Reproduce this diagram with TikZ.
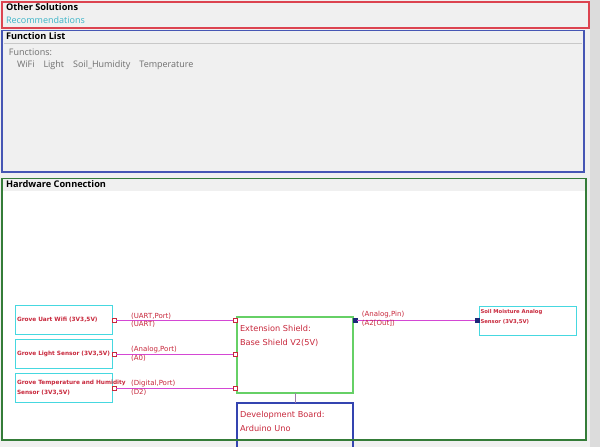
\documentclass[tikz,border=0pt]{standalone}
\usepackage{fontspec}
\setmainfont{Open Sans}
\newfontfamily\cadfont{DejaVu Sans}
\usetikzlibrary{positioning}
\definecolor{panelgray}{HTML}{F0F0F0}
\definecolor{bargray}{HTML}{DCDCDC}
\definecolor{rulegray}{HTML}{C8C8C8}
\definecolor{textgray}{HTML}{6E6E6E}
\definecolor{recocyan}{HTML}{3CB4C8}
\definecolor{panelred}{HTML}{DC4450}
\definecolor{panelblue}{HTML}{4656B4}
\definecolor{panelgreen}{HTML}{347C38}
\definecolor{sensorcyan}{HTML}{46D8E0}
\definecolor{shieldgreen}{HTML}{66D066}
\definecolor{devblue}{HTML}{3444B0}
\definecolor{cadred}{HTML}{C8283C}
\definecolor{linkpink}{HTML}{D448D4}
\definecolor{pinblue}{HTML}{1C2878}
\definecolor{stemgray}{HTML}{9C7CA8}
\begin{document}
\begin{tikzpicture}[x=1pt, y=-1pt,
    every node/.style={inner sep=0pt, outer sep=0pt},
    panel/.style={line width=1.6pt},
    title/.style={anchor=west, font=\bfseries\fontsize{9.2}{11}\selectfont},
    info/.style={anchor=west, text=textgray, font=\fontsize{9}{11}\selectfont},
    sensor/.style={draw=sensorcyan, line width=1pt,
        minimum width=97pt, minimum height=29pt, text width=93pt,
        align=left, text=cadred, font=\cadfont\bfseries\fontsize{5.8}{10}\selectfont},
    board/.style={line width=1.2pt, minimum width=116pt},
    boardtext/.style={anchor=north west, align=left, text=cadred,
        font=\cadfont\fontsize{8.2}{14}\selectfont},
    port/.style={draw=cadred, fill=white, line width=0.6pt, minimum size=3.8pt},
    pin/.style={draw=pinblue, fill=pinblue, minimum size=3.8pt},
    link/.style={draw=linkpink, line width=1pt},
    lab/.style={text=cadred, font=\cadfont\fontsize{7}{8}\selectfont}
]
\useasboundingbox (0,0) rectangle (600,447);
\fill[panelgray] (0,0) rectangle (600,447);
\fill[bargray] (590,0) rectangle (600,447);

% panels
\draw[panel, draw=panelred] (2,2) rectangle (589,28);
\node[title] at (6,7.5) {Other Solutions};
\node[anchor=west, text=recocyan, font=\fontsize{9}{11}\selectfont] at (6,20) {Recommendations};

\draw[panel, draw=panelblue] (2,30.5) rectangle (584,172);
\draw[rulegray, line width=0.6pt] (4,43) -- (582,43);
\node[title] at (6,36.5) {Function List};
\node[info] at (9,52) {Functions:};
\node[info] at (17,65) {WiFi\hspace{9pt}Light\hspace{9pt}Soil\_Humidity\hspace{9pt}Temperature};

\fill[white] (3,191) rectangle (585,439);
\node[title] at (6,184) {Hardware Connection};

% sensors
\node[sensor] (wifi) at (63.5,320) {Grove Uart Wifi (3V3,5V)};
\node[sensor, below=5pt of wifi] (light) {Grove Light Sensor (3V3,5V)};
\node[sensor, below=5pt of light] (temp) {\makebox[93pt][l]{Grove Temperature and Humidity}\\Sensor (3V3,5V)};

\node[port, right=0.3pt of wifi] (wifiP) {};
\node[port, right=0.3pt of light] (lightP) {};
\node[port, right=0.3pt of temp] (tempP) {};

% boards
\node[board, draw=shieldgreen, minimum height=76pt] (shield) at (295,355) {};
\node[boardtext, below right=8pt and 3pt of shield.north west] {Extension Shield:\\Base Shield V2(5V)};
\node[board, draw=devblue, minimum height=60pt, below=10pt of shield] (dev) {};
\node[boardtext, below right=8pt and 3pt of dev.north west] {Development Board:\\Arduino Uno};
\draw[stemgray, line width=1pt] (shield) -- (dev);

\node[port] (sh1) at ([xshift=-2pt]wifiP -| shield.west) {};
\node[port] (sh2) at ([xshift=-2pt]lightP -| shield.west) {};
\node[port] (sh3) at ([xshift=-2pt]tempP -| shield.west) {};
\node[pin] (shR) at ([xshift=2pt]wifiP -| shield.east) {};

\node[sensor, text width=0pt] (soil) at (527.5,321) {};
\node[boardtext, font=\cadfont\bfseries\fontsize{5.3}{10}\selectfont, below right=3pt and 1.5pt of soil.north west] {Soil Moisture Analog\\Sensor (3V3,5V)};
\node[pin] (soilP) at ([xshift=-2pt]shR -| soil.west) {};

% connections
\draw[link] (wifiP) -- (sh1);
\draw[link] (lightP) -- (sh2);
\draw[link] (tempP) -- (sh3);
\draw[link] (shR) -- (soilP);

\node[lab, anchor=south west] at ([xshift=15pt, yshift=1pt]wifiP.east) {(UART,Port)};
\node[lab, anchor=north west] at ([xshift=15pt, yshift=-1.5pt]wifiP.east) {(UART)};
\node[lab, anchor=south west] at ([xshift=15pt, yshift=1pt]lightP.east) {(Analog,Port)};
\node[lab, anchor=north west] at ([xshift=15pt, yshift=-1.5pt]lightP.east) {(A0)};
\node[lab, anchor=south west] at ([xshift=15pt, yshift=1pt]tempP.east) {(Digital,Port)};
\node[lab, anchor=north west] at ([xshift=15pt, yshift=-1.5pt]tempP.east) {(D2)};
\node[lab, anchor=south west] at ([xshift=5pt, yshift=2pt]shR.east) {(Analog,Pin)};
\node[lab, anchor=north west] at ([xshift=5pt, yshift=-0.5pt]shR.east) {(A2[Out])};

\draw[panel, draw=panelgreen] (2,178.5) rectangle (586,440);
\end{tikzpicture}
\end{document}
